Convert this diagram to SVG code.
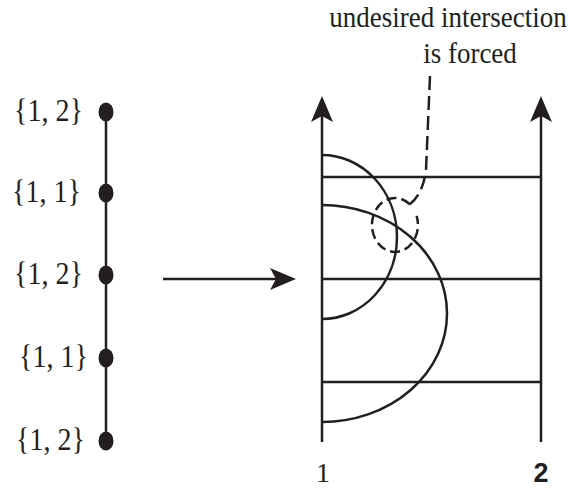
<svg xmlns="http://www.w3.org/2000/svg" width="573" height="489" viewBox="0 0 573 489">
<style>
.t{font-family:"Liberation Serif","Times New Roman",serif;fill:#231f20}
.lb{font-size:28px}
.ln{stroke:#231f20;stroke-width:2.5;fill:none}
.dot{fill:#231f20}
.ah{fill:#231f20}
</style>
<rect width="573" height="489" fill="#fff"/>
<g id="chain">
<line class="ln" x1="106" y1="112" x2="106" y2="441"/>
</g>
<g id="n1"><ellipse class="dot" cx="106" cy="112" rx="7.5" ry="9.5"/><text class="t lb" transform="translate(14,121) scale(1,1.1)">{1, 2}</text></g>
<g id="n2"><ellipse class="dot" cx="106" cy="193" rx="7.5" ry="9.5"/><text class="t lb" transform="translate(12,202) scale(1,1.1)">{1, 1}</text></g>
<g id="n3"><ellipse class="dot" cx="106" cy="275" rx="7.5" ry="9.5"/><text class="t lb" transform="translate(14,284) scale(1,1.1)">{1, 2}</text></g>
<g id="n4"><ellipse class="dot" cx="106" cy="358" rx="7.5" ry="9.5"/><text class="t lb" transform="translate(19,367) scale(1,1.1)">{1, 1}</text></g>
<g id="n5"><ellipse class="dot" cx="106" cy="441" rx="7.5" ry="9.5"/><text class="t lb" transform="translate(16,450) scale(1,1.1)">{1, 2}</text></g>
<g id="connectors">
<line class="ln" x1="163" y1="279" x2="280" y2="279"/>
<path class="ah" d="M296,279 L270,268 L276,279 L270,290 Z"/>
</g>
<g id="ladder">
<line class="ln" x1="322" y1="108" x2="322" y2="442"/>
<line class="ln" x1="541" y1="108" x2="541" y2="442"/>
<path class="ah" d="M322,96 L311,122 L322,116 L333,122 Z"/>
<path class="ah" d="M541,96 L530,122 L541,116 L552,122 Z"/>
<line class="ln" x1="322" y1="177" x2="541" y2="177"/>
<line class="ln" x1="322" y1="279" x2="541" y2="279"/>
<line class="ln" x1="322" y1="382" x2="541" y2="382"/>
<path class="ln" d="M322,155 A75,82 0 0 1 322,319"/>
<path class="ln" d="M322,205 A125,108.5 0 0 1 322,422"/>
<path class="ln" stroke-dasharray="10,5" d="M409.8,204.3 A23,27 0 1 0 416.6,215.8"/>
<path class="ln" stroke-dasharray="14,6" d="M430,76 L426,170 Q423,194 409.8,204.3"/>
<text class="t" x="323" y="482" font-size="28" text-anchor="middle">1</text>
<text x="541" y="482" font-size="27" text-anchor="middle" font-weight="bold" font-family="Liberation Sans,sans-serif" fill="#231f20">2</text>
</g>
<g id="label">
<text class="t" font-size="27" text-anchor="middle" transform="translate(448,27) scale(1,1.12)">undesired intersection</text>
<text class="t" font-size="27" text-anchor="middle" transform="translate(470,63) scale(1,1.12)">is forced</text>
</g>
</svg>
